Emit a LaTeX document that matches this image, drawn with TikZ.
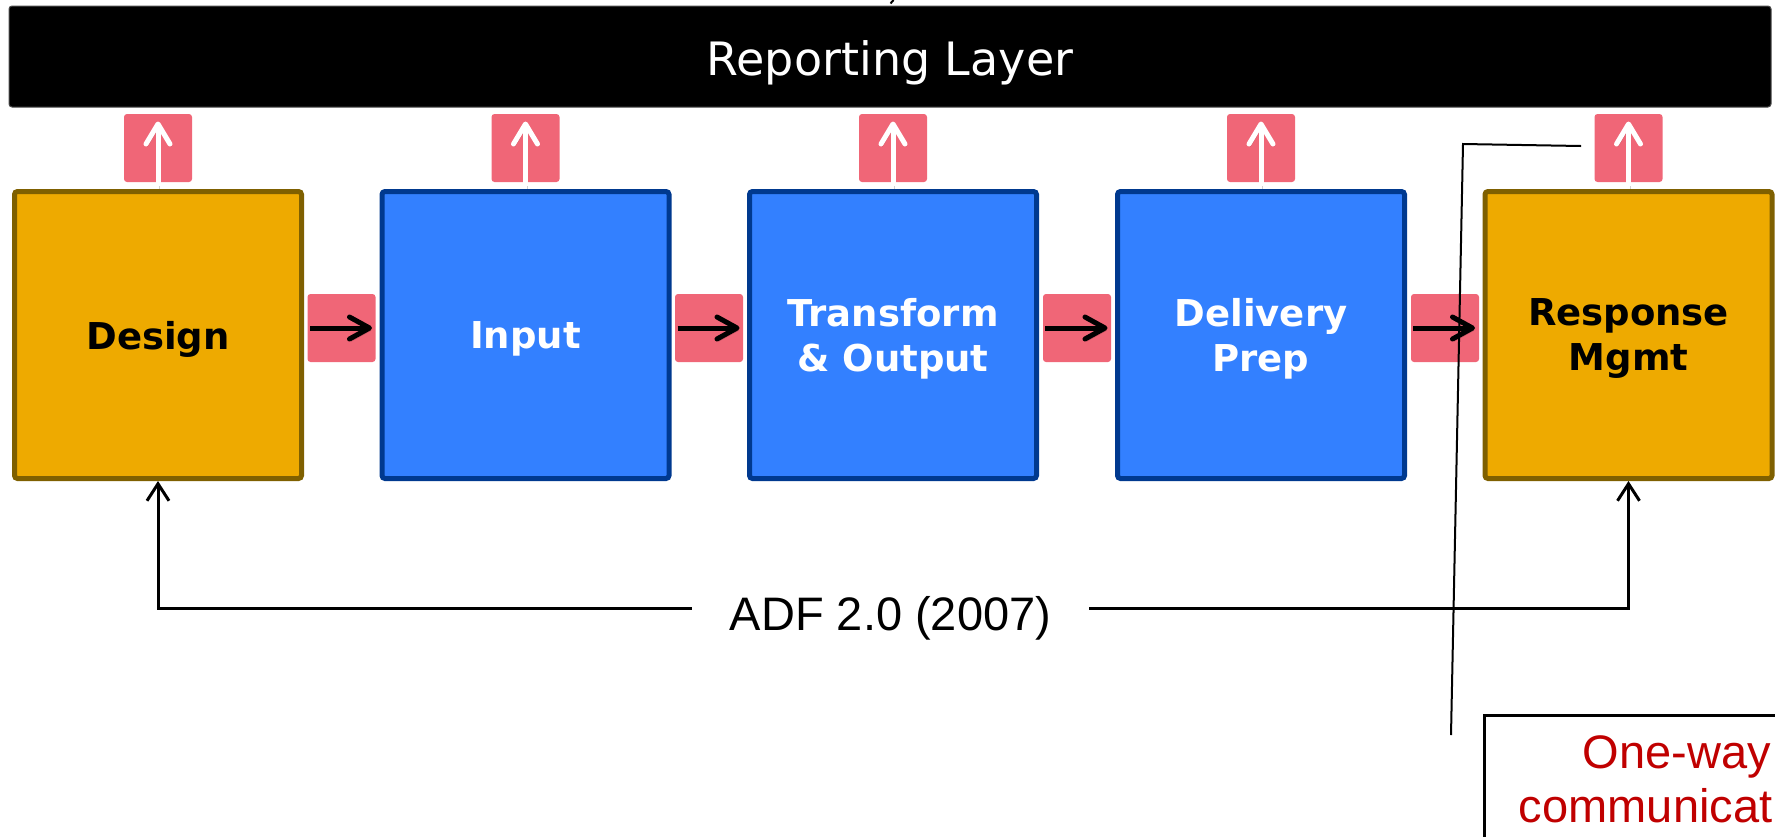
\documentclass[tikz,border=0pt]{standalone}
\usepackage{fontspec}
\newfontfamily\dejavu{DejaVu Sans}
\newfontfamily\arialfont{Liberation Sans}
\usetikzlibrary{arrows.meta,calc}

\definecolor{stagegold}{HTML}{EEAA00}
\definecolor{stagebrown}{HTML}{7F6000}
\definecolor{stageblue}{HTML}{3380FF}
\definecolor{stagenavy}{HTML}{00398F}
\definecolor{linkpink}{HTML}{F06677}
\definecolor{noteRed}{HTML}{C00000}

\begin{document}
\begin{tikzpicture}[x=1pt,y=-1pt,
  layerbar/.style={rectangle, rounded corners=3pt, fill=black, draw=black!70,
    line width=1pt, minimum width=1762pt, minimum height=101pt, inner sep=0pt,
    text=white, text height=37pt, text depth=0pt,
    font=\dejavu\fontsize{46}{55}\selectfont},
  stagebox/.style={rectangle, rounded corners=3pt, line width=5pt,
    minimum width=287pt, minimum height=287pt, inner sep=0pt, align=center,
    text depth=0pt, font=\dejavu\bfseries\fontsize{37}{45}\selectfont},
  goldstage/.style={stagebox, fill=stagegold, draw=stagebrown, text=black},
  bluestage/.style={stagebox, fill=stageblue, draw=stagenavy, text=white},
  linkpad/.style={rectangle, rounded corners=3pt, fill=linkpink,
    minimum size=68pt, inner sep=0pt},
  softshadow/.style={preaction={draw=black, opacity=0.18,
    transform canvas={shift={(1.5pt,-2.5pt)}}}},
  uparrow/.style={softshadow, draw=white, line width=5pt,
    -{Straight Barb[length=20pt,width=24pt,round]}},
  flowarrow/.style={softshadow, draw=black, line width=5pt,
    -{Straight Barb[length=20pt,width=22pt,round]}},
  feedback/.style={draw=black, line width=3pt,
    -{Straight Barb[length=17pt,width=22pt]}},
  pointer/.style={draw=black, line width=2pt},
  notebox/.style={draw=black, line width=3pt, fill=white, text=noteRed,
    font=\arialfont\fontsize{47}{54}\selectfont, align=center,
    minimum width=385pt, inner ysep=21pt},
]
\useasboundingbox (0,0) rectangle (1775,836);
\clip (0,0) rectangle (1775,836);

% stub of a line entering from above
\coordinate (stubA) at (893.5,0);
\coordinate (stubB) at (890.5,3.5);
\draw[line width=2pt] (stubA) -- (stubB);

% reporting layer
\node[layerbar] (bar) at (890,56.5) {Reporting Layer};

% process stages
\node[goldstage] (design)    at (158,335)    {Design};
\node[bluestage] (input)     at (525.5,335)  {Input};
\node[bluestage] (transform) at (893,335)    {Transform\\\& Output};
\node[bluestage] (delivery)  at (1261,335)   {Delivery\\Prep};
\node[goldstage] (response)  at (1628.5,335) {Response\\Mgmt};

% pads carrying the reporting arrows
\foreach \s in {design,input,transform,delivery,response}{
  \node[linkpad] (up-\s) at (\s.center |- 0,148) {};
}

% pads carrying the stage-to-stage arrows
\node[linkpad] (pad1) at (341.5,328) {};
\node[linkpad] (pad2) at (709,328)   {};
\node[linkpad] (pad3) at (1077,328)  {};
\node[linkpad] (pad4) at (1445,328)  {};

% reporting arrows
\foreach \s in {design,input,transform,delivery,response}{
  \draw[uparrow, shorten <=3pt, shorten >=14pt] (\s.north) -- (\s.north |- bar.south);
}

% stage-to-stage arrows
\draw[flowarrow, shorten <=6pt, shorten >=7.5pt] (design.east |- pad1.center) -- (input.west |- pad1.center);
\draw[flowarrow, shorten <=6pt, shorten >=7.5pt] (input.east |- pad2.center) -- (transform.west |- pad2.center);
\draw[flowarrow, shorten <=6pt, shorten >=7.5pt] (transform.east |- pad3.center) -- (delivery.west |- pad3.center);
\draw[flowarrow, shorten <=6pt, shorten >=7.5pt] (delivery.east |- pad4.center) -- (response.west |- pad4.center);

% ADF 2.0 loop
\coordinate (fbline) at (0,608);
\node[font=\arialfont\fontsize{47}{56}\selectfont, inner xsep=38pt, inner ysep=0pt,
  anchor=base] (adf) at (890.5,630) {ADF 2.0 (2007)};
\draw[feedback] (adf.west |- fbline) -| (design.south);
\draw[feedback] (adf.east |- fbline) -| (response.south);

% callout
\coordinate (ptA) at (1581,146);
\coordinate (ptB) at (1463,144);
\coordinate (ptC) at (1451,735);
\draw[pointer] (ptA) -- (ptB) -- (ptC);
\node[notebox, anchor=north] (note) at (1677,713.5) {One-way\\communication};
\end{tikzpicture}
\end{document}
